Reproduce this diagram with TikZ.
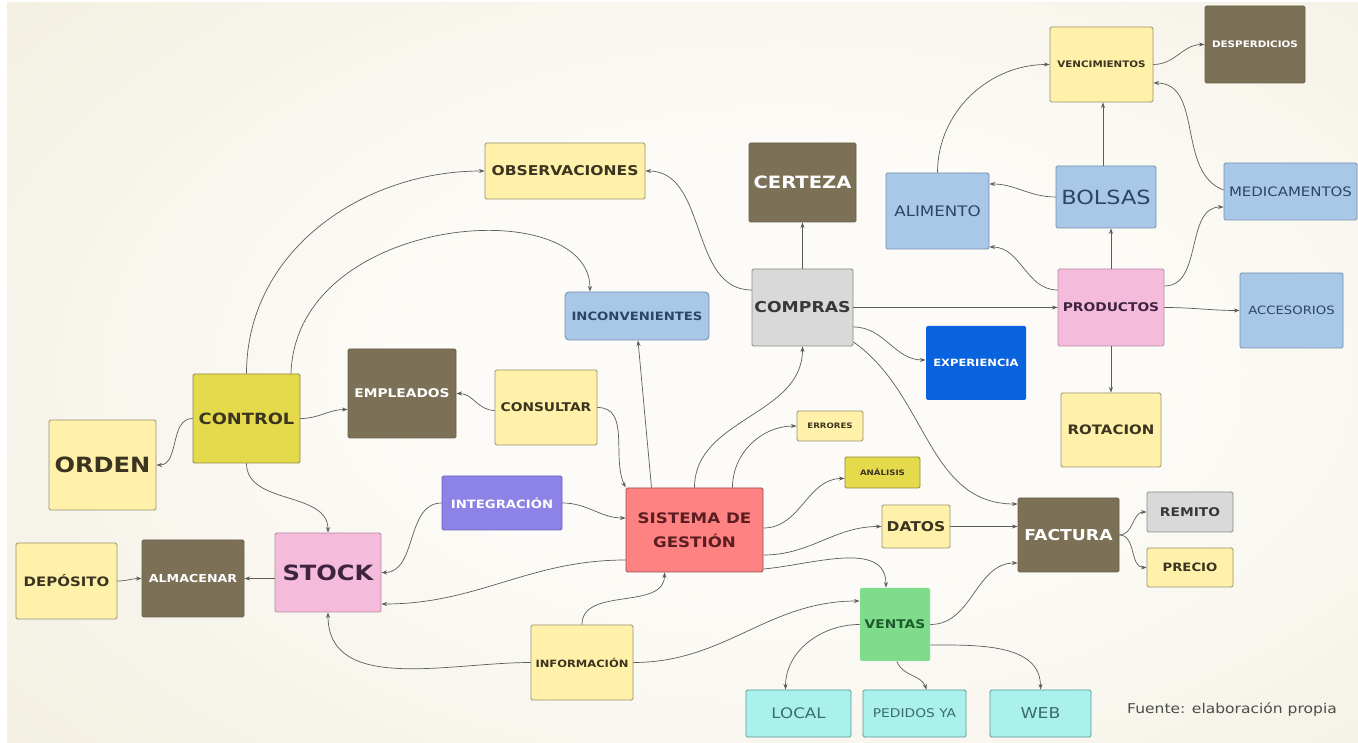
\documentclass[tikz,border=0pt]{standalone}
\usepackage{fontspec}
\setmainfont{DejaVu Sans}[FakeStretch=1.15]
\usetikzlibrary{arrows.meta}

\definecolor{bgin}{HTML}{FCFBF7}
\definecolor{bgout}{HTML}{E3DDBE}
\definecolor{ylwfill}{HTML}{FFF1AA}
\definecolor{ylwline}{HTML}{9A9170}
\definecolor{ylwtext}{HTML}{3A3420}
\definecolor{brnfill}{HTML}{7C7057}
\definecolor{bluefill}{HTML}{A9C8E8}
\definecolor{blueline}{HTML}{7391B0}
\definecolor{bluetext}{HTML}{2C4565}
\definecolor{grayfill}{HTML}{D9D9D9}
\definecolor{grayline}{HTML}{8A8A8A}
\definecolor{pinkfill}{HTML}{F5BBDA}
\definecolor{pinkline}{HTML}{B88CA6}
\definecolor{pinktext}{HTML}{3F2440}
\definecolor{deepblue}{HTML}{0A63DE}
\definecolor{goldfill}{HTML}{E5DA4C}
\definecolor{goldline}{HTML}{8F8840}
\definecolor{purplefill}{HTML}{8D82E6}
\definecolor{purpleline}{HTML}{6C62C0}
\definecolor{redfill}{HTML}{FF8282}
\definecolor{redline}{HTML}{9B4B4B}
\definecolor{redtext}{HTML}{5A1E22}
\definecolor{greenfill}{HTML}{7FDC8B}
\definecolor{greentext}{HTML}{1E5A2C}
\definecolor{cyanfill}{HTML}{AAF1ED}
\definecolor{cyanline}{HTML}{5F9896}
\definecolor{cyantext}{HTML}{3C6C6C}
\definecolor{wire}{HTML}{5C5C5C}

\pgfdeclareradialshading{paper}{\pgfpoint{0bp}{0bp}}{color(0bp)=(bgin); color(12bp)=(bgin); color(68bp)=(bgout)}

\newcommand\fz[1]{\fontsize{#1}{#1}\selectfont}

\tikzset{
  box/.style={rectangle, rounded corners=1.5pt, line width=0.9pt, inner sep=0pt, align=center},
  ylw/.style={box, draw=ylwline, fill=ylwfill, text=ylwtext},
  brn/.style={box, draw=brnfill!85!black, fill=brnfill, text=white},
  lblue/.style={box, draw=blueline, fill=bluefill, text=bluetext},
  gry/.style={box, draw=grayline, fill=grayfill, text=black!78},
  pnk/.style={box, draw=pinkline, fill=pinkfill, text=pinktext},
  gold/.style={box, draw=goldline, fill=goldfill, text=ylwtext},
  cyn/.style={box, draw=cyanline, fill=cyanfill, text=cyantext},
  arr/.style={draw=wire, line width=0.7pt, -{Stealth[length=5.5pt,width=4pt]}}
}

\begin{document}
\begin{tikzpicture}[x=1pt,y=1pt]
% paper background
\useasboundingbox (0,0) rectangle (1358,742);
\fill[white] (0,0) rectangle (1358,742);
\begin{scope}
  \clip (7,0) rectangle (1358,739);
  \shade[shading=paper] (7,-80) rectangle (1560,819);
\end{scope}

% boxes
\node[ylw, minimum width=103, minimum height=75, font=\fz{9}\bfseries] (venc) at (1101.5,677.5) {VENCIMIENTOS};
\node[brn, minimum width=100, minimum height=77, font=\fz{9}\bfseries] (desp) at (1255,697.5) {DESPERDICIOS};
\node[ylw, minimum width=160, minimum height=56, font=\fz{13.5}\bfseries] (obs) at (565,571) {OBSERVACIONES};
\node[brn, minimum width=107, minimum height=79, font=\fz{17}\bfseries] (cert) at (802.5,559.5) {CERTEZA};
\node[lblue, minimum width=103, minimum height=76, font=\fz{14.5}] (alim) at (937.5,531) {ALIMENTO};
\node[lblue, minimum width=100, minimum height=62, font=\fz{19.5}] (bols) at (1106,545) {BOLSAS};
\node[lblue, minimum width=133, minimum height=57, font=\fz{13}] (medi) at (1290.5,550.5) {MEDICAMENTOS};
\node[lblue, rounded corners=4pt, minimum width=144, minimum height=48, font=\fz{11.5}\bfseries] (inco) at (637,426) {INCONVENIENTES};
\node[gry, minimum width=101, minimum height=77, font=\fz{15}\bfseries] (comp) at (802.5,434.5) {COMPRAS};
\node[pnk, minimum width=106, minimum height=77, font=\fz{12}\bfseries] (prod) at (1111,434.5) {PRODUCTOS};
\node[lblue, minimum width=103, minimum height=75, font=\fz{11.5}] (acce) at (1291.5,431.5) {ACCESORIOS};
\node[box, fill=deepblue, text=white, minimum width=100, minimum height=74, font=\fz{10}\bfseries] (expe) at (976,379) {EXPERIENCIA};
\node[brn, minimum width=108, minimum height=89, font=\fz{12}\bfseries] (empl) at (402,348.5) {EMPLEADOS};
\node[ylw, minimum width=102, minimum height=75, font=\fz{12}\bfseries] (cons) at (546,334.5) {CONSULTAR};
\node[gold, minimum width=107, minimum height=89, font=\fz{15.5}\bfseries] (ctrl) at (246.5,323.5) {CONTROL};
\node[ylw, minimum width=107, minimum height=90, font=\fz{21}\bfseries] (orde) at (102.5,277) {ORDEN};
\node[ylw, minimum width=66, minimum height=30, font=\fz{7.5}\bfseries] (erro) at (830,316) {ERRORES};
\node[ylw, minimum width=100, minimum height=74, font=\fz{13}\bfseries] (rota) at (1111,312) {ROTACION};
\node[gold, minimum width=75, minimum height=31, font=\fz{7.5}\bfseries] (anal) at (882.5,269.5) {ANÁLISIS};
\node[box, draw=purpleline, fill=purplefill, text=white, minimum width=120, minimum height=54, font=\fz{11.5}\bfseries] (inte) at (502,239) {INTEGRACIÓN};
\node[box, draw=redline, fill=redfill, text=redtext, minimum width=137, minimum height=84, font=\fz{14.5}\bfseries] (sist) at (694.5,212) {SISTEMA DE\\[9pt]GESTIÓN};
\node[ylw, minimum width=68, minimum height=43, font=\fz{13.5}\bfseries] (dato) at (916,215.5) {DATOS};
\node[brn, minimum width=101, minimum height=74, font=\fz{15}\bfseries] (fact) at (1068.5,207) {FACTURA};
\node[gry, minimum width=86, minimum height=40, font=\fz{12}\bfseries] (remi) at (1190,230) {REMITO};
\node[ylw, minimum width=86, minimum height=39, font=\fz{11.5}\bfseries] (prec) at (1190,174.5) {PRECIO};
\node[ylw, minimum width=101, minimum height=76, font=\fz{13}\bfseries] (depo) at (66.5,161) {DEPÓSITO};
\node[brn, minimum width=102, minimum height=77, font=\fz{11}\bfseries] (alma) at (193,163.5) {ALMACENAR};
\node[pnk, minimum width=106, minimum height=79, font=\fz{21}\bfseries] (stoc) at (328,169.5) {STOCK};
\node[box, fill=greenfill, text=greentext, minimum width=70, minimum height=73, font=\fz{12}\bfseries] (vent) at (895,117.5) {VENTAS};
\node[ylw, minimum width=102, minimum height=75, font=\fz{10}\bfseries] (info) at (582,79.5) {INFORMACIÓN};
\node[cyn, minimum width=105, minimum height=47, font=\fz{14.5}] (loca) at (798.5,28.5) {LOCAL};
\node[cyn, minimum width=103, minimum height=47, font=\fz{12}] (pedi) at (914.5,28.5) {PEDIDOS YA};
\node[cyn, minimum width=101, minimum height=47, font=\fz{15}] (web) at (1040.5,28.5) {WEB};
\node[anchor=west, inner sep=0pt, text=black!70, font=\fz{13.5}] (fuente) at (1127,32) {Fuente: elaboración propia};

% connectors
\draw[arr] (ctrl.north) to[out=90,in=180] (obs.west);
\draw[arr] ([xshift=44.5pt]ctrl.north) .. controls +(5,160) and +(0,100) .. ([xshift=-47pt]inco.north);
\draw[arr] (ctrl.east) to[out=0,in=180] ([yshift=-16pt]empl.west);
\draw[arr] (ctrl.west) to[out=180,in=0] (orde.east);
\draw[arr] (ctrl.south) to[out=-90,in=90] (stoc.north);
\draw[arr] ([yshift=-3pt]cons.west) to[out=180,in=0] (empl.east);
\draw[arr] (cons.east) to[out=0,in=115] (sist.north west);
\draw[arr] ([xshift=-43pt]sist.north) -- ([xshift=1pt]inco.south);
\draw[arr] (sist.north) to[out=90,in=-90] (comp.south);
\draw[arr] ([xshift=38pt]sist.north) to[out=90,in=180] (erro.west);
\draw[arr] ([yshift=2pt]sist.east) to[out=0,in=180] ([yshift=-6pt]anal.west);
\draw[arr] ([yshift=-25pt]sist.east) to[out=0,in=180] (dato.west);
\draw[arr] ([yshift=-39pt]sist.east) to[out=5,in=90] ([xshift=-9pt]vent.north);
\draw[arr] ([yshift=-30pt]sist.west) to[out=180,in=0] ([yshift=-31.5pt]stoc.east);
\draw[arr] (inte.east) to[out=0,in=180] ([yshift=12pt]sist.west);
\draw[arr] (inte.west) to[out=180,in=0] (stoc.east);
\draw[arr] (stoc.west |- alma.east) -- (alma.east);
\draw[arr] (depo.east) to[out=0,in=180] (alma.west);
\draw[arr] (info.west) to[out=180,in=-90] (stoc.south);
\draw[arr] (info.north) to[out=90,in=-90] ([xshift=-30pt]sist.south);
\draw[arr] (info.east) to[out=0,in=180] ([yshift=23.5pt]vent.west);
\draw[arr] (vent.west) to[out=180,in=90] ([xshift=-13pt]loca.north);
\draw[arr] ([xshift=2pt]vent.south) to[out=-70,in=110] ([xshift=12pt]pedi.north);
\draw[arr] ([yshift=-20.5pt]vent.east) to[out=0,in=90] (web.north);
\draw[arr] (vent.east) to[out=0,in=180] ([yshift=-28pt]fact.west);
\draw[arr] (dato.east) -- (dato.east -| fact.west);
\draw[arr] ([yshift=-34.5pt]comp.east) to[out=-35,in=180] ([yshift=31pt]fact.west);
\draw[arr] (fact.east) to[out=0,in=180] (remi.west);
\draw[arr] (fact.east) to[out=0,in=180] (prec.west);
\draw[arr] ([yshift=17.5pt]comp.west) to[out=180,in=0] (obs.east);
\draw[arr] (comp.north) -- (cert.south);
\draw[arr] (comp.east) -- (prod.west);
\draw[arr] ([yshift=-19.5pt]comp.east) to[out=0,in=180] ([yshift=3pt]expe.west);
\draw[arr] ([yshift=17.5pt]prod.west) to[out=180,in=0] ([yshift=-36pt]alim.east);
\draw[arr] (prod.north) -- (prod.north |- bols.south);
\draw[arr] ([yshift=21.5pt]prod.east) to[out=0,in=180] ([yshift=-15.5pt]medi.west);
\draw[arr] (prod.east) to[out=0,in=180] (acce.west);
\draw[arr] (prod.south) -- (rota.north);
\draw[arr] (bols.west) to[out=180,in=0] ([yshift=27pt]alim.east);
\draw[arr] ([xshift=-3pt]bols.north) -- ([xshift=-3pt]bols.north |- venc.south);
\draw[arr] (alim.north) to[out=90,in=180] (venc.west);
\draw[arr] ([yshift=1.5pt]medi.west) to[out=160,in=0] ([yshift=-18.5pt]venc.east);
\draw[arr] (venc.east) to[out=0,in=180] (desp.west);
\end{tikzpicture}
\end{document}
